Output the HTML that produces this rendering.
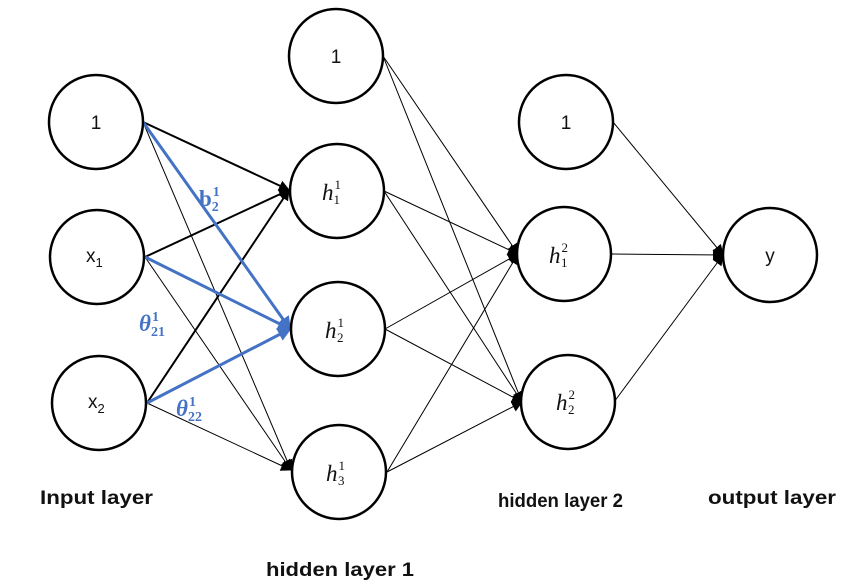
<!DOCTYPE html>
<html><head><meta charset="utf-8"><style>
html,body{margin:0;padding:0;background:#fff;}
svg{display:block;}
.t{font-family:"Liberation Sans",sans-serif;font-weight:bold;font-size:19px;fill:#111;}
.n{font-family:"Liberation Sans",sans-serif;font-size:19px;fill:#111;}
.m{font-family:"Liberation Serif",serif;font-style:italic;font-size:23px;fill:#111;}
.s{font-family:"Liberation Serif",serif;font-size:13px;fill:#111;font-style:normal;}
.b{font-family:"Liberation Serif",serif;font-weight:bold;font-style:italic;font-size:23px;fill:#4472c4;}
.bs{font-family:"Liberation Serif",serif;font-weight:bold;font-size:14px;fill:#4472c4;font-style:normal;}
</style></head><body>
<svg width="866" height="584" viewBox="0 0 866 584" xmlns="http://www.w3.org/2000/svg">
<defs>
<marker id="ak" markerWidth="11" markerHeight="11" refX="10" refY="5.5" orient="auto" markerUnits="userSpaceOnUse"><path d="M0,0 L11,5.5 L0,11 z" fill="#000"/></marker>
<marker id="ab" markerWidth="14" markerHeight="14" refX="12" refY="7" orient="auto" markerUnits="userSpaceOnUse"><path d="M0,0 L14,7 L0,14 z" fill="#4472c4"/></marker>
</defs>
<g stroke="#000" fill="none">
<line x1="143" y1="122" x2="289" y2="190" stroke-width="2" marker-end="url(#ak)"/>
<line x1="145" y1="257" x2="289" y2="190" stroke-width="2" marker-end="url(#ak)"/>
<line x1="147" y1="403" x2="289" y2="190" stroke-width="2" marker-end="url(#ak)"/>
<line x1="143" y1="122" x2="291" y2="470" stroke-width="1" marker-end="url(#ak)"/>
<line x1="145" y1="257" x2="291" y2="470" stroke-width="1" marker-end="url(#ak)"/>
<line x1="147" y1="403" x2="291" y2="470" stroke-width="1" marker-end="url(#ak)"/>
<line x1="383" y1="56" x2="518" y2="254" stroke-width="1" marker-end="url(#ak)"/>
<line x1="384" y1="191" x2="518" y2="254" stroke-width="1" marker-end="url(#ak)"/>
<line x1="385" y1="329" x2="518" y2="254" stroke-width="1" marker-end="url(#ak)"/>
<line x1="387" y1="472" x2="518" y2="254" stroke-width="1" marker-end="url(#ak)"/>
<line x1="383" y1="56" x2="522" y2="402" stroke-width="1" marker-end="url(#ak)"/>
<line x1="384" y1="191" x2="522" y2="402" stroke-width="1" marker-end="url(#ak)"/>
<line x1="385" y1="329" x2="522" y2="402" stroke-width="1" marker-end="url(#ak)"/>
<line x1="387" y1="472" x2="522" y2="402" stroke-width="1" marker-end="url(#ak)"/>
<line x1="613" y1="122" x2="723" y2="255" stroke-width="1" marker-end="url(#ak)"/>
<line x1="611" y1="254" x2="723" y2="255" stroke-width="1" marker-end="url(#ak)"/>
<line x1="614" y1="402" x2="723" y2="255" stroke-width="1" marker-end="url(#ak)"/>
</g>
<g stroke="#4472c4" stroke-width="3" fill="none">
<line x1="143" y1="122" x2="290" y2="329" marker-end="url(#ab)"/>
<line x1="145" y1="257" x2="290" y2="329" marker-end="url(#ab)"/>
<line x1="147" y1="403" x2="290" y2="329" marker-end="url(#ab)"/>
</g>
<g stroke="#000" stroke-width="2.5" fill="#fff">
<circle cx="96" cy="122" r="47"/>
<circle cx="97" cy="257" r="47"/>
<circle cx="99" cy="403" r="47"/>
<circle cx="336" cy="56" r="47"/>
<circle cx="337" cy="191" r="47"/>
<circle cx="338" cy="329" r="47"/>
<circle cx="339" cy="472" r="47"/>
<circle cx="566" cy="122" r="47"/>
<circle cx="564" cy="254" r="47"/>
<circle cx="568" cy="402" r="47"/>
<circle cx="770" cy="255" r="47"/>
</g>
<text class="n" x="96" y="129" text-anchor="middle">1</text>
<text class="n" x="336" y="63" text-anchor="middle">1</text>
<text class="n" x="566" y="129" text-anchor="middle">1</text>
<text class="n" x="770" y="262" text-anchor="middle">y</text>
<text class="n" x="86" y="262">x<tspan dy="5" style="font-family:'Liberation Sans';font-size:13px">1</tspan></text>
<text class="n" x="88" y="408">x<tspan dy="5" style="font-family:'Liberation Sans';font-size:13px">2</tspan></text>
<text class="m" x="322" y="200">h<tspan class="s" dx="1" dy="-11">1</tspan><tspan class="s" dx="-7" dy="15">1</tspan></text>
<text class="m" x="325" y="338">h<tspan class="s" dx="1" dy="-11">1</tspan><tspan class="s" dx="-7" dy="15">2</tspan></text>
<text class="m" x="326" y="481">h<tspan class="s" dx="1" dy="-11">1</tspan><tspan class="s" dx="-7" dy="15">3</tspan></text>
<text class="m" x="549" y="263">h<tspan class="s" dx="1" dy="-11">2</tspan><tspan class="s" dx="-7" dy="15">1</tspan></text>
<text class="m" x="556" y="410">h<tspan class="s" dx="1" dy="-11">2</tspan><tspan class="s" dx="-7" dy="15">2</tspan></text>
<text class="b" x="199" y="206" style="font-style:normal">b<tspan class="bs" dx="1" dy="-10">1</tspan><tspan class="bs" dx="-8" dy="15">2</tspan></text>
<text class="b" x="139" y="331">θ<tspan class="bs" dx="1" dy="-10">1</tspan><tspan class="bs" dx="-8" dy="15">21</tspan></text>
<text class="b" x="176" y="416">θ<tspan class="bs" dx="1" dy="-10">1</tspan><tspan class="bs" dx="-8" dy="15">22</tspan></text>
<text class="t" x="40" y="504" textLength="113" lengthAdjust="spacingAndGlyphs">Input layer</text>
<text class="t" x="498" y="507" textLength="125" lengthAdjust="spacingAndGlyphs">hidden layer 2</text>
<text class="t" x="708" y="504" textLength="128" lengthAdjust="spacingAndGlyphs">output layer</text>
<text class="t" x="266" y="576" textLength="148" lengthAdjust="spacingAndGlyphs">hidden layer 1</text>
</svg>
</body></html>
